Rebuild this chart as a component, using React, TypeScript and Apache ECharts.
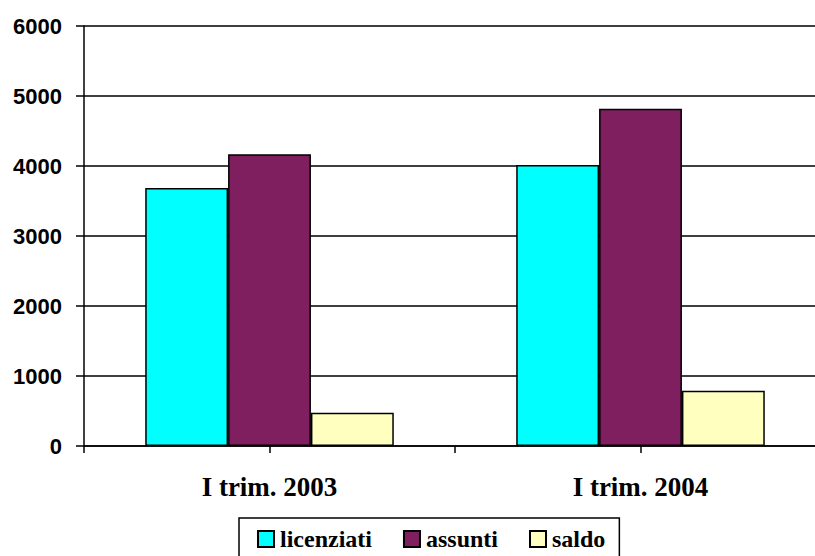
import React, { useEffect, useRef } from "react";
import * as echarts from "echarts";

const categories = ["I trim. 2003", "I trim. 2004"];
const licenziati = [3686, 4014];
const assunti = [4167, 4819];
const saldo = [476, 790];
const seriesNames = ["licenziati", "assunti", "saldo"];
const colors = ["#00FFFF", "#7F1F5F", "#FFFFC0"];

const SERIF = "Liberation Serif";
const SANS = "Liberation Sans";

export default function App() {
  const ref = useRef<HTMLDivElement>(null);
  useEffect(() => {
    if (!ref.current) return;
    const chart = echarts.init(ref.current, null, { renderer: "svg" });
    const values = [licenziati, assunti, saldo];
    chart.setOption({
      animation: false,
      backgroundColor: "#ffffff",
      grid: { left: 84, top: 26, bottom: 110, right: 0, containLabel: false },
      legend: {
        data: seriesNames,
        left: 239,
        top: 518,
        orient: "horizontal",
        borderColor: "#000",
        borderWidth: 1.5,
        padding: [9, 14, 8, 18],
        itemWidth: 16,
        itemHeight: 16,
        itemGap: 31,
        icon: "rect",
        textStyle: { fontFamily: SERIF, fontWeight: "bold", fontSize: 24, color: "#000", padding: [0, 0, 0, 1] },
      },
      xAxis: [
        {
          type: "category",
          data: categories,
          axisLine: { lineStyle: { color: "#000", width: 1.5 } },
          axisTick: { show: false },
          axisLabel: { margin: 27, fontFamily: SERIF, fontWeight: "bold", fontSize: 27, color: "#000" },
        },
        {
          type: "value",
          min: 0,
          max: 4,
          interval: 1,
          position: "bottom",
          axisLine: { show: false },
          axisLabel: { show: false },
          splitLine: { show: false },
          axisTick: { show: true, length: 7, lineStyle: { color: "#000", width: 1.5 } },
        },
      ],
      yAxis: {
        type: "value",
        min: 0,
        max: 6000,
        interval: 1000,
        axisLine: { show: true, lineStyle: { color: "#000", width: 1.5 } },
        axisTick: { show: true, length: 8, lineStyle: { color: "#000", width: 1.5 } },
        axisLabel: { margin: 22, fontFamily: SANS, fontWeight: "bold", fontSize: 22, color: "#000", formatter: (v: number) => String(v) },
        splitLine: { show: true, lineStyle: { color: "#000", width: 1.5 } },
      },
      series: seriesNames.map((name, i) => ({
        name,
        type: "bar",
        xAxisIndex: 0,
        data: values[i],
        barGap: "0%",
        barCategoryGap: "33%",
        itemStyle: { color: colors[i], borderColor: "#000", borderWidth: 1.5 },
      })),
    });
    return () => chart.dispose();
  }, []);
  return (
    <div style={{ position: "fixed", left: 0, top: 0, width: 815, height: 556, overflow: "hidden", background: "#fff" }}>
      <div ref={ref} style={{ width: 826, height: 556 }} />
    </div>
  );
}
